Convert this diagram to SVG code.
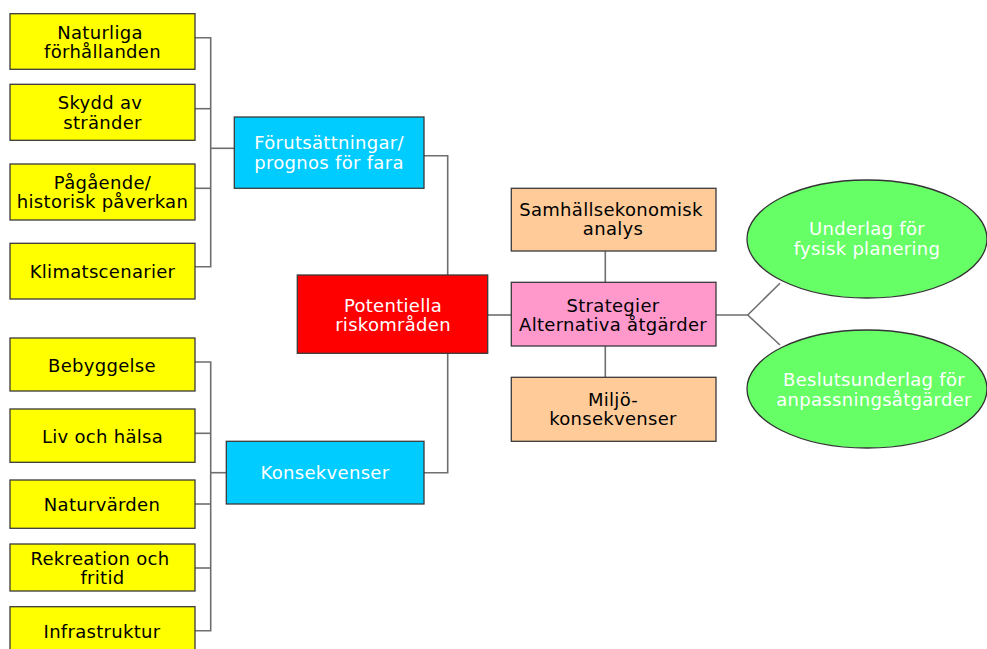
<svg xmlns="http://www.w3.org/2000/svg" width="987" height="649" viewBox="0 0 987 649">
  <style>
    .box { stroke: #3a3a3a; stroke-width: 1.3; }
    .yellow { fill: #FFFF00; }
    .blue { fill: #00CCFF; }
    .red { fill: #FF0000; }
    .pink { fill: #FF99CC; }
    .orange { fill: #FFCC99; }
    .green { fill: #66FF66; stroke: #333; stroke-width: 1.3; }
    text { font-family: "DejaVu Sans", Verdana, sans-serif; font-size: 18px; letter-spacing: 0.3px; text-anchor: middle; }
    .dark { fill: #000; }
    .light { fill: #fff; }
    .conn { fill: none; stroke: #6e6e6e; stroke-width: 1.6; }
  </style>

  <!-- connectors -->
  <g id="connectors">
    <!-- upper bracket -->
    <polyline class="conn" points="195,37.7 210.7,37.7 210.7,266.7 195,266.7"/>
    <line class="conn" x1="195" y1="108.7" x2="210.7" y2="108.7"/>
    <line class="conn" x1="195" y1="188.3" x2="210.7" y2="188.3"/>
    <line class="conn" x1="210.7" y1="148.3" x2="234.3" y2="148.3"/>
    <!-- lower bracket -->
    <polyline class="conn" points="195,362 210.7,362 210.7,630.7 195,630.7"/>
    <line class="conn" x1="195" y1="433.3" x2="210.7" y2="433.3"/>
    <line class="conn" x1="195" y1="504" x2="210.7" y2="504"/>
    <line class="conn" x1="195" y1="568" x2="210.7" y2="568"/>
    <line class="conn" x1="210.7" y1="472.7" x2="226.3" y2="472.7"/>
    <!-- blue boxes to red -->
    <polyline class="conn" points="424,155.7 447.7,155.7 447.7,275"/>
    <polyline class="conn" points="424,472.7 447.7,472.7 447.7,353.3"/>
    <!-- red to pink -->
    <line class="conn" x1="487.7" y1="315" x2="511.3" y2="315"/>
    <!-- pink to orange -->
    <line class="conn" x1="605.3" y1="251" x2="605.3" y2="282.3" stroke="#333"/>
    <line class="conn" x1="605.3" y1="346" x2="605.3" y2="377.3" stroke="#333"/>
    <!-- pink to ellipses -->
    <polyline class="conn" points="716,315 747.7,315 780,283.3"/>
    <line class="conn" x1="747.7" y1="315" x2="780" y2="345"/>
  </g>

  <!-- upper inputs -->
  <g id="naturliga">
    <rect class="box yellow" x="10" y="13.7" width="185" height="55.6"/>
    <text class="dark" x="100" y="38.7">Naturliga</text>
    <text class="dark" x="102.5" y="58.2">förhållanden</text>
  </g>
  <g id="skydd">
    <rect class="box yellow" x="10" y="84.3" width="185" height="56"/>
    <text class="dark" x="100" y="109">Skydd av</text>
    <text class="dark" x="102.5" y="128.5">stränder</text>
  </g>
  <g id="pagaende">
    <rect class="box yellow" x="10" y="164" width="185" height="56"/>
    <text class="dark" x="102.5" y="188.7">Pågående/</text>
    <text class="dark" x="102.5" y="208.2">historisk påverkan</text>
  </g>
  <g id="klimat">
    <rect class="box yellow" x="10" y="243.3" width="185" height="55.7"/>
    <text class="dark" x="102.5" y="277.6">Klimatscenarier</text>
  </g>

  <!-- lower inputs -->
  <g id="bebyggelse">
    <rect class="box yellow" x="10" y="338" width="185" height="53"/>
    <text class="dark" x="102" y="371.6">Bebyggelse</text>
  </g>
  <g id="liv">
    <rect class="box yellow" x="10" y="409" width="185" height="53.3"/>
    <text class="dark" x="102.5" y="442.8">Liv och hälsa</text>
  </g>
  <g id="naturvarden">
    <rect class="box yellow" x="10" y="480" width="185" height="48.3"/>
    <text class="dark" x="102" y="510.8">Naturvärden</text>
  </g>
  <g id="rekreation">
    <rect class="box yellow" x="10" y="544" width="185" height="47"/>
    <text class="dark" x="100" y="564.6">Rekreation och</text>
    <text class="dark" x="102.5" y="584">fritid</text>
  </g>
  <g id="infrastruktur">
    <rect class="box yellow" x="10" y="606.7" width="185" height="56"/>
    <text class="dark" x="102" y="637.6">Infrastruktur</text>
  </g>

  <!-- intermediate -->
  <g id="forutsattningar">
    <rect class="box blue" x="234.3" y="117" width="189.7" height="71.3"/>
    <text class="light" x="329" y="149.3">Förutsättningar/</text>
    <text class="light" x="329" y="168.8">prognos för fara</text>
  </g>
  <g id="konsekvenser">
    <rect class="box blue" x="226.3" y="441.3" width="197.7" height="62.7"/>
    <text class="light" x="325" y="479.3">Konsekvenser</text>
  </g>

  <g id="potentiella">
    <rect class="box red" x="297.3" y="275" width="190.4" height="78.3"/>
    <text class="light" x="393" y="311.5">Potentiella</text>
    <text class="light" x="393" y="331">riskområden</text>
  </g>

  <g id="samhallsekonomisk">
    <rect class="box orange" x="511.3" y="188.3" width="204.7" height="62.7"/>
    <text class="dark" x="611" y="216">Samhällsekonomisk</text>
    <text class="dark" x="613" y="235.4">analys</text>
  </g>
  <g id="strategier">
    <rect class="box pink" x="511.3" y="282.3" width="204.7" height="63.7"/>
    <text class="dark" x="613" y="311.5">Strategier</text>
    <text class="dark" x="613" y="331">Alternativa åtgärder</text>
  </g>
  <g id="miljo">
    <rect class="box orange" x="511.3" y="377.3" width="204.7" height="64"/>
    <text class="dark" x="613" y="405.8">Miljö-</text>
    <text class="dark" x="613" y="425.3">konsekvenser</text>
  </g>

  <!-- outcomes -->
  <g id="underlag">
    <ellipse class="green" cx="867" cy="239" rx="120" ry="59"/>
    <text class="light" x="867" y="235">Underlag för</text>
    <text class="light" x="867" y="254.5">fysisk planering</text>
  </g>
  <g id="beslutsunderlag">
    <ellipse class="green" cx="867" cy="389" rx="120" ry="59"/>
    <text class="light" x="874" y="386">Beslutsunderlag för</text>
    <text class="light" x="874" y="405.5">anpassningsåtgärder</text>
  </g>
</svg>
